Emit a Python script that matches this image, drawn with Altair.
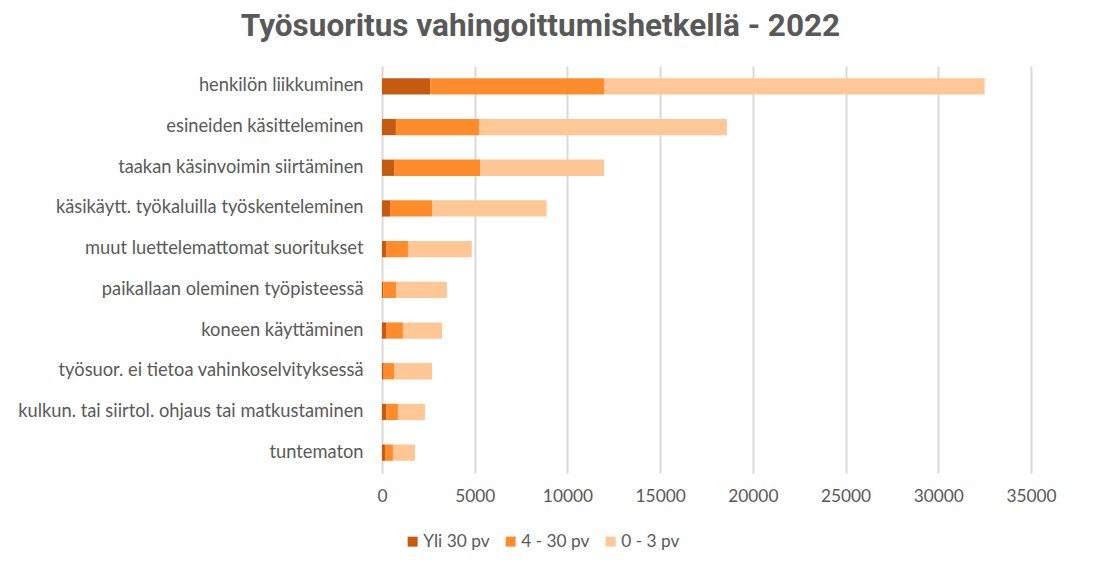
import altair as alt
import pandas as pd

categories = [
    "henkilön liikkuminen",
    "esineiden käsitteleminen",
    "taakan käsinvoimin siirtäminen",
    "käsikäytt. työkaluilla työskenteleminen",
    "muut luettelemattomat suoritukset",
    "paikallaan oleminen työpisteessä",
    "koneen käyttäminen",
    "työsuor. ei tietoa vahinkoselvityksessä",
    "kulkun. tai siirtol. ohjaus tai matkustaminen",
    "tuntematon",
]
series = ["Yli 30 pv", "4 - 30 pv", "0 - 3 pv"]
yli30 = [2600, 750, 650, 430, 250, 70, 250, 90, 220, 160]
v4_30 = [9400, 4480, 4640, 2270, 1150, 685, 880, 560, 640, 430]
v0_3 = [20500, 13370, 6680, 6180, 3440, 2745, 2110, 2050, 1460, 1190]
colors = ["#C55A11", "#FF8C2B", "#FFC796"]
x_ticks = [0, 5000, 10000, 15000, 20000, 25000, 30000, 35000]

rows = []
for i, c in enumerate(categories):
    for j, (s, vals) in enumerate(zip(series, [yli30, v4_30, v0_3])):
        rows.append({"cat": c, "series": s, "value": vals[i], "ord": j})
df = pd.DataFrame(rows)

FONT = "Lato"
GRAY = "#595959"

chart = alt.Chart(df).mark_bar().encode(
    y=alt.Y("cat:N", sort=categories, title=None,
            scale=alt.Scale(paddingInner=0.6, paddingOuter=0.3),
            axis=alt.Axis(ticks=False, domain=False, labelPadding=19,
                          labelFont=FONT, labelFontSize=18.3, labelColor=GRAY,
                          labelLimit=400)),
    x=alt.X("value:Q", stack="zero", title=None,
            scale=alt.Scale(domain=[0, 35000], nice=False),
            axis=alt.Axis(values=x_ticks, ticks=False, domain=False,
                          labelPadding=14, labelFont=FONT, labelFontSize=17.3,
                          labelColor=GRAY, grid=True, gridColor="#D9D9D9",
                          gridWidth=2, format="d", labelFlush=False)),
    color=alt.Color("series:N", sort=series,
                    scale=alt.Scale(domain=series, range=colors),
                    legend=alt.Legend(title=None, orient="none", direction="horizontal",
                                      legendX=22, legendY=467, symbolType="square",
                                      symbolSize=100, symbolStrokeWidth=0,
                                      labelFont=FONT, labelFontSize=17.3,
                                      labelColor=GRAY, labelOffset=2,
                                      columnPadding=12)),
    order=alt.Order("ord:Q"),
).properties(
    width=649,
    height=407,
    title=alt.TitleParams("Työsuoritus vahingoittumishetkellä - 2022",
                          font="Roboto", fontSize=31.5, fontWeight="bold",
                          color=GRAY, anchor="middle", dx=-166, offset=24),
    autosize=alt.AutoSizeParams(type="none"),
    padding={"left": 374, "top": 58, "right": 62, "bottom": 85},
).configure_view(stroke=None)

chart.save("out.html", embed_options={"renderer": "svg", "actions": False})
